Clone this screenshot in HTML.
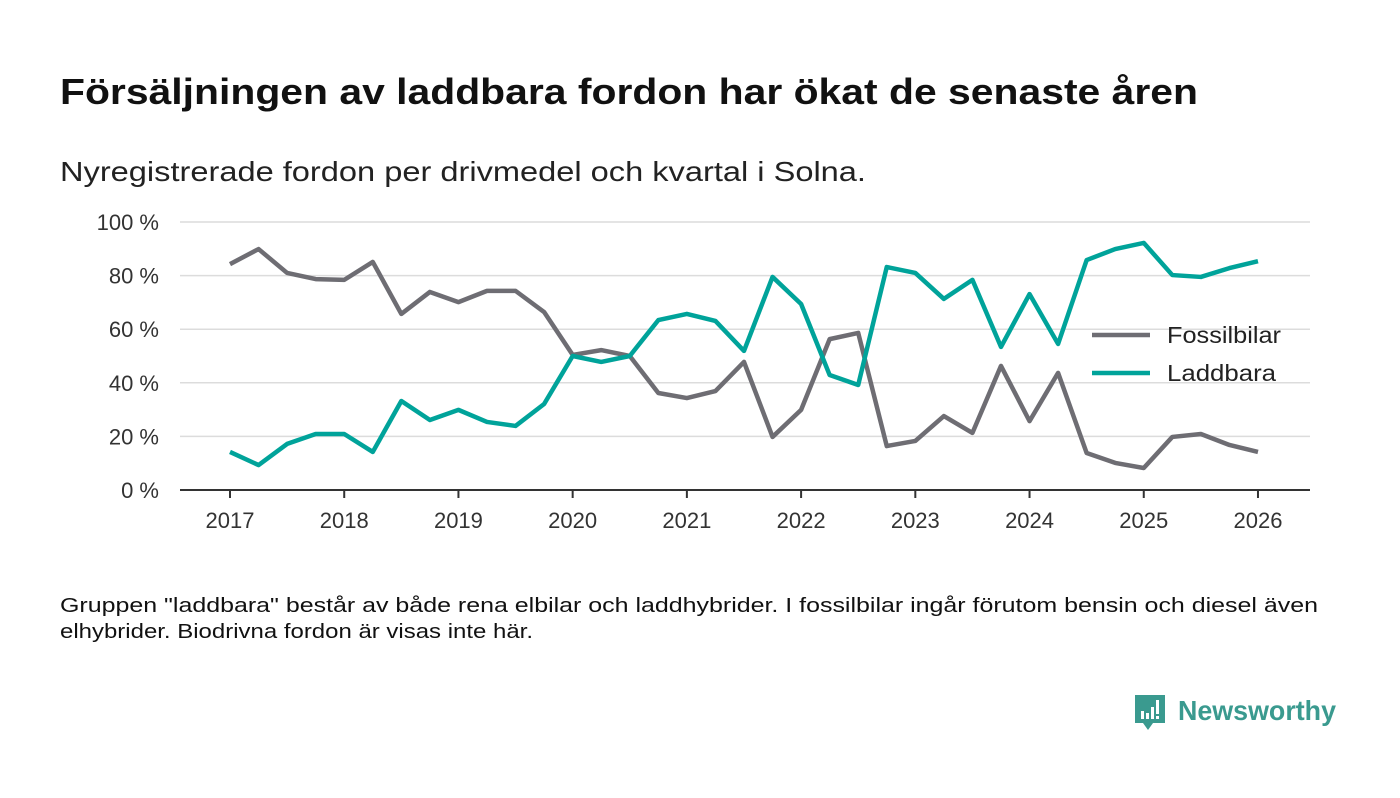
<!DOCTYPE html>
<html><head><meta charset="utf-8"><style>
body{margin:0;background:#fff;width:1400px;height:793px;overflow:hidden;font-family:"Liberation Sans",sans-serif}
</style></head><body>
<svg width="1400" height="793" id="svg">
<text x="60" y="104" font-size="36" font-weight="bold" fill="#111" textLength="1138" lengthAdjust="spacingAndGlyphs">Försäljningen av laddbara fordon har ökat de senaste åren</text>
<text x="60" y="181" font-size="28" fill="#222" textLength="806" lengthAdjust="spacingAndGlyphs">Nyregistrerade fordon per drivmedel och kvartal i Solna.</text>
<g id="grid"></g><g id="xt"></g><g id="lines"></g>
<g>
<line x1="1092" y1="335" x2="1150" y2="335" stroke="#6e6d73" stroke-width="4.5"/>
<text x="1167" y="343" font-size="23" fill="#222" textLength="114" lengthAdjust="spacingAndGlyphs">Fossilbilar</text>
<line x1="1092" y1="373" x2="1150" y2="373" stroke="#00a39a" stroke-width="4.5"/>
<text x="1167" y="381" font-size="23" fill="#222" textLength="109" lengthAdjust="spacingAndGlyphs">Laddbara</text>
</g>
<text x="60" y="612" font-size="20" fill="#111" textLength="1258" lengthAdjust="spacingAndGlyphs">Gruppen "laddbara" består av både rena elbilar och laddhybrider. I fossilbilar ingår förutom bensin och diesel även</text>
<text x="60" y="638" font-size="20" fill="#111" textLength="473" lengthAdjust="spacingAndGlyphs">elhybrider. Biodrivna fordon är visas inte här.</text>
<g>
<path d="M1135 695 h30 v28 h-12 l-5 7 l-5 -7 h-8 z" fill="#3a9a8f"/>
<rect x="1141" y="711" width="3" height="8" fill="#fff"/><rect x="1146" y="713" width="3" height="6" fill="#fff"/><rect x="1151" y="707" width="3" height="12" fill="#fff"/><rect x="1156" y="700" width="3" height="14" fill="#fff"/><rect x="1156" y="716" width="3" height="3" fill="#fff"/>
<text x="1178" y="720" font-size="28" font-weight="bold" fill="#3a9a8f" textLength="158" lengthAdjust="spacingAndGlyphs">Newsworthy</text>
</g>
</svg>
<script>
const years=[2017,2018,2019,2020,2021,2022,2023,2024,2025,2026];
const yTicks=[0,20,40,60,80,100];
const fossil=[84.3,89.9,81,78.7,78.4,85.1,65.7,73.9,70.1,74.3,74.3,66.4,50.4,52.2,50,36.2,34.3,36.9,47.8,19.8,29.9,56.3,58.6,16.4,18.3,27.6,21.3,46.3,25.7,43.7,13.8,10.1,8.2,19.8,20.9,16.8,14.2];
const laddbara=[14.2,9.3,17.2,20.9,20.9,14.2,33.2,26.1,29.9,25.4,23.9,32.1,50,47.8,50,63.4,65.7,63.1,51.9,79.5,69.4,42.9,39.2,83.2,81,71.3,78.4,53.4,73.1,54.5,85.8,89.9,92.2,80.2,79.5,82.8,85.4];
const NS='http://www.w3.org/2000/svg';
const X=t=>230+(t-2017)*114.22, Y=v=>490-v*2.68;
function mk(tag,a,p){const e=document.createElementNS(NS,tag);for(const k in a)e.setAttribute(k,a[k]);p.appendChild(e);return e;}
const g=document.getElementById('grid'),xt=document.getElementById('xt'),L=document.getElementById('lines');
yTicks.forEach(v=>{
 if(v>0){const l=mk('line',{x1:180,x2:1310,y1:Y(v),y2:Y(v),stroke:'#dcdcdc','stroke-width':1.5},g);
 
 }
 const t=mk('text',{x:159,y:Y(v)+8,'text-anchor':'end','font-size':22,fill:'#333'},g);t.textContent=v+' %';
 
 
});
const ax=mk('line',{x1:180,x2:1310,y1:490,y2:490,stroke:'#333','stroke-width':2},g);


years.forEach(y=>{
 mk('line',{x1:X(y),x2:X(y),y1:490,y2:498,stroke:'#333','stroke-width':2},xt);
 const t=mk('text',{x:X(y),y:528,'text-anchor':'middle','font-size':22,fill:'#333'},xt);t.textContent=y;
 
 
});
function series(d,c,n){const p=mk('polyline',{points:d.map((v,i)=>X(2017+i/4)+','+Y(v)).join(' '),fill:'none',stroke:c,'stroke-width':4.5,'stroke-linejoin':'round'},L);
 
 }
series(fossil,'#6e6d73','line-fossilbilar');
series(laddbara,'#00a39a','line-laddbara');
</script>
</body></html>
